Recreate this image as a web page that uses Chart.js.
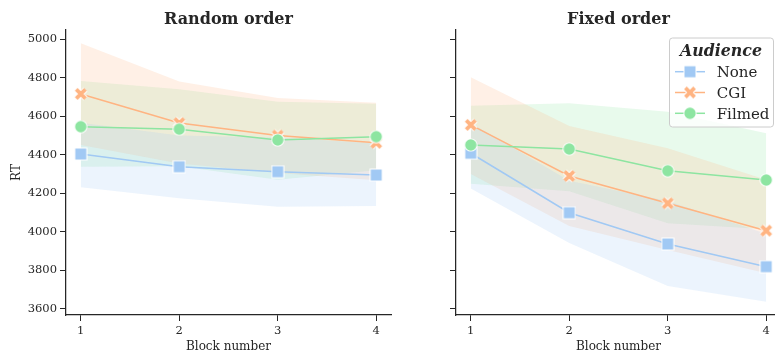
<!DOCTYPE html>
<html><head><meta charset="utf-8">
<script src="https://cdn.jsdelivr.net/npm/chart.js@4.4.1/dist/chart.umd.min.js"></script>
<style>
html,body{margin:0;padding:0;background:#fff;overflow:hidden;width:775px;height:358px;}
#wrap{position:relative;width:775px;height:358px;overflow:hidden;background:#fff;}
#c1{position:absolute;left:0;top:0;width:400px;height:358px;}
#c2{position:absolute;left:400px;top:0;width:390px;height:358px;}
</style></head><body>
<div id="wrap"><canvas id="c1" width="400" height="358"></canvas><canvas id="c2" width="390" height="358"></canvas></div>
<script>
// ---- data ----
const blocks = [1, 2, 3, 4];
const audiences = ['None', 'CGI', 'Filmed'];
const yTicks = [3600, 3800, 4000, 4200, 4400, 4600, 4800, 5000];
const panelTitles = ['Random order', 'Fixed order'];

// Random order
const rndNoneMean = [4404, 4338, 4312, 4295];
const rndNoneLo   = [4231, 4174, 4130, 4134];
const rndNoneHi   = [4567, 4500, 4490, 4460];
const rndCgiMean  = [4716, 4565, 4500, 4462];
const rndCgiLo    = [4451, 4355, 4305, 4268];
const rndCgiHi    = [4979, 4780, 4695, 4670];
const rndFilmMean = [4546, 4533, 4477, 4494];
const rndFilmLo   = [4338, 4340, 4270, 4320];
const rndFilmHi   = [4783, 4740, 4675, 4665];

// Fixed order
const fixNoneMean = [4408, 4099, 3937, 3819];
const fixNoneLo   = [4225, 3942, 3718, 3637];
const fixNoneHi   = [4565, 4265, 4160, 3990];
const fixCgiMean  = [4555, 4290, 4148, 4006];
const fixCgiLo    = [4300, 4030, 3905, 3785];
const fixCgiHi    = [4803, 4550, 4434, 4270];
const fixFilmMean = [4451, 4430, 4317, 4269];
const fixFilmLo   = [4250, 4210, 4044, 4013];
const fixFilmHi   = [4655, 4667, 4624, 4512];

// ---- styles ----
const colors = ['#a1c9f4', '#ffb482', '#8de5a1'];
const bandColors = ['rgba(161,201,244,0.2)', 'rgba(255,180,130,0.2)', 'rgba(141,229,161,0.2)'];
const TXT = '#262626';
const FONT = "'DejaVu Serif', serif";

function markerSquare(c) {
  const cv = document.createElement('canvas'); cv.width = 14; cv.height = 14;
  const g = cv.getContext('2d');
  g.fillStyle = '#ffffff'; g.fillRect(0.5, 0.5, 13, 13);
  g.fillStyle = c; g.fillRect(1.5, 1.5, 11, 11);
  return cv;
}
function markerX(c) {
  const cv = document.createElement('canvas'); cv.width = 16; cv.height = 16;
  const g = cv.getContext('2d');
  const m = 8, d = 4.6;
  g.lineCap = 'butt';
  const seg = () => { g.beginPath(); g.moveTo(m-d, m-d); g.lineTo(m+d, m+d); g.moveTo(m+d, m-d); g.lineTo(m-d, m+d); g.stroke(); };
  g.strokeStyle = '#ffffff'; g.lineWidth = 5.6; seg();
  g.strokeStyle = c; g.lineWidth = 3.8; seg();
  return cv;
}
function markerCircle(c) {
  const cv = document.createElement('canvas'); cv.width = 14; cv.height = 14;
  const g = cv.getContext('2d');
  g.fillStyle = '#ffffff'; g.beginPath(); g.arc(7, 7, 6.6, 0, Math.PI*2); g.fill();
  g.fillStyle = c; g.beginPath(); g.arc(7, 7, 5.7, 0, Math.PI*2); g.fill();
  return cv;
}
const markers = [markerSquare(colors[0]), markerX(colors[1]), markerCircle(colors[2])];

const pts = arr => blocks.map((b, i) => ({x: b, y: arr[i]}));

function buildDatasets(means, los, his) {
  const ds = [];
  means.forEach((m, k) => {
    ds.push({label: audiences[k] + ' lo', data: pts(los[k]), borderWidth: 0, pointRadius: 0, fill: false, order: 10, band: true});
    ds.push({label: audiences[k] + ' hi', data: pts(his[k]), borderWidth: 0, pointRadius: 0, fill: '-1', backgroundColor: bandColors[k], order: 10, band: true});
  });
  means.forEach((m, k) => {
    ds.push({label: audiences[k], data: pts(m), borderColor: colors[k], backgroundColor: colors[k], borderWidth: 1.5,
      pointStyle: markers[k], pointRadius: 6, fill: false, order: 3 - k, tension: 0});
  });
  return ds;
}

const titlePlugin = {
  id: 'panelTitle',
  afterDraw(chart, args, opts) {
    const a = chart.chartArea, ctx = chart.ctx;
    ctx.save();
    ctx.font = "bold 16px " + FONT;
    ctx.fillStyle = TXT; ctx.textAlign = 'center'; ctx.textBaseline = 'alphabetic';
    ctx.fillText(opts.text, (a.left + a.right) / 2, 23.5);
    ctx.restore();
  }
};

const legendPlugin = {
  id: 'audLegend',
  afterDraw(chart, args, opts) {
    if (!opts.show) return;
    const ctx = chart.ctx;
    ctx.save();
    const x0 = 269.5, y0 = 38, w = 104, h = 89, r = 3;
    ctx.beginPath();
    ctx.moveTo(x0 + r, y0); ctx.lineTo(x0 + w - r, y0); ctx.quadraticCurveTo(x0 + w, y0, x0 + w, y0 + r);
    ctx.lineTo(x0 + w, y0 + h - r); ctx.quadraticCurveTo(x0 + w, y0 + h, x0 + w - r, y0 + h);
    ctx.lineTo(x0 + r, y0 + h); ctx.quadraticCurveTo(x0, y0 + h, x0, y0 + h - r);
    ctx.lineTo(x0, y0 + r); ctx.quadraticCurveTo(x0, y0, x0 + r, y0); ctx.closePath();
    ctx.fillStyle = 'rgba(255,255,255,0.8)'; ctx.fill();
    ctx.strokeStyle = '#cccccc'; ctx.lineWidth = 1; ctx.stroke();
    ctx.fillStyle = TXT; ctx.textAlign = 'center'; ctx.textBaseline = 'alphabetic';
    ctx.font = "bold italic 15.8px " + FONT;
    ctx.fillText('Audience', 321, 56);
    ctx.textAlign = 'left';
    ctx.font = "15px " + FONT;
    audiences.forEach((name, k) => {
      const yc = 71.7 + k * 20.8;
      ctx.strokeStyle = colors[k]; ctx.lineWidth = 1.5;
      ctx.beginPath(); ctx.moveTo(275, yc); ctx.lineTo(305, yc); ctx.stroke();
      const mk = markers[k];
      ctx.drawImage(mk, 290 - mk.width / 2, yc - mk.height / 2);
      ctx.fillStyle = TXT;
      ctx.fillText(name, 316.7, yc + 5.6);
    });
    ctx.restore();
  }
};

function makeChart(id, idx, means, los, his) {
  const left = idx === 0;
  return new Chart(document.getElementById(id), {
    type: 'line',
    data: {datasets: buildDatasets(means, los, his)},
    plugins: [titlePlugin, legendPlugin],
    options: {
      responsive: false, animation: false, events: [],
      layout: {padding: {left: 0, right: 9, top: 30, bottom: 0}},
      plugins: {
        legend: {display: false}, tooltip: {enabled: false}, title: {display: false},
        filler: {drawTime: 'beforeDatasetsDraw', propagate: false},
        panelTitle: {text: panelTitles[idx]},
        audLegend: {show: !left}
      },
      scales: {
        x: {
          type: 'linear', min: 0.85, max: 4.15,
          afterBuildTicks: s => { s.ticks = blocks.map(v => ({value: v})); },
          afterFit: s => { s.height = 43; },
          grid: {display: true, drawOnChartArea: false, drawTicks: true, tickLength: 6, tickColor: TXT, lineWidth: 1},
          border: {display: true, color: TXT, width: 1.25},
          ticks: {color: TXT, font: {family: FONT, size: 11.5}, padding: 3, maxRotation: 0, callback: v => String(v)},
          title: {display: true, text: 'Block number', color: TXT, font: {family: FONT, size: 12}, padding: {top: 0, bottom: 4}}
        },
        y: {
          type: 'linear', min: 3568, max: 5048,
          afterBuildTicks: s => { s.ticks = yTicks.map(v => ({value: v})); },
          afterFit: s => { s.width = left ? 66 : 56; },
          grid: {display: true, drawOnChartArea: false, drawTicks: true, tickLength: 6, tickColor: TXT, lineWidth: 1},
          border: {display: true, color: TXT, width: 1.25},
          ticks: {color: TXT, font: {family: FONT, size: 11.5}, padding: 3, callback: v => left ? String(v) : ''},
          title: {display: left, text: 'RT', color: TXT, font: {family: FONT, size: 12}, padding: {top: 10, bottom: 0}}
        }
      }
    }
  });
}

makeChart('c1', 0, [rndNoneMean, rndCgiMean, rndFilmMean], [rndNoneLo, rndCgiLo, rndFilmLo], [rndNoneHi, rndCgiHi, rndFilmHi]);
makeChart('c2', 1, [fixNoneMean, fixCgiMean, fixFilmMean], [fixNoneLo, fixCgiLo, fixFilmLo], [fixNoneHi, fixCgiHi, fixFilmHi]);
</script>
</body></html>
